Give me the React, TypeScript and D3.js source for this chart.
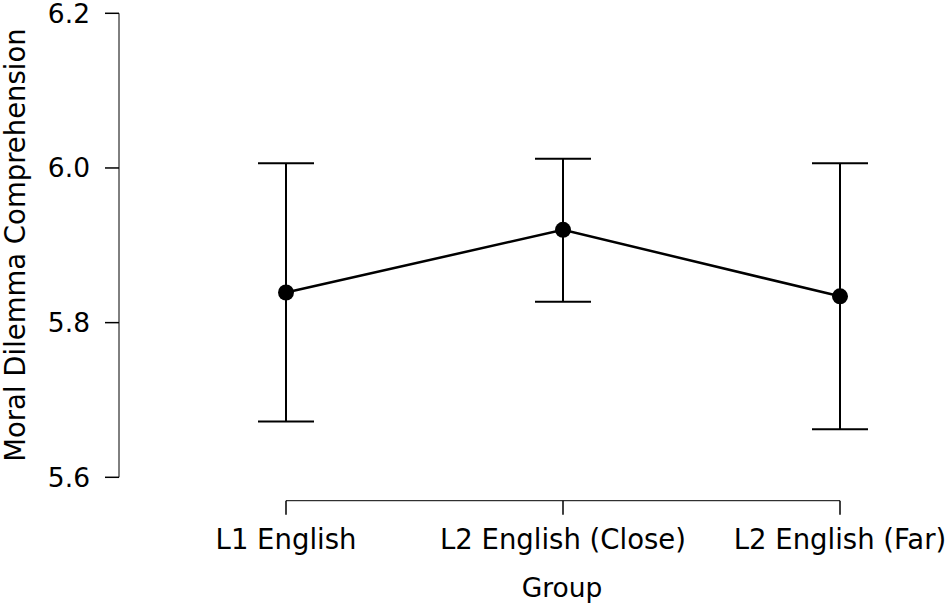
import { useEffect, useRef } from 'react';
import * as d3 from 'd3';

const GROUPS = ['L1 English', 'L2 English (Close)', 'L2 English (Far)'];
const MEANS = [5.839, 5.920, 5.834];
const LOWER = [5.672, 5.827, 5.662];
const UPPER = [6.006, 6.012, 6.006];
const Y_TICKS = [5.6, 5.8, 6.0, 6.2];

const WIDTH = 949;
const HEIGHT = 609;
const FONT = '"DejaVu Sans", "Open Sans", sans-serif';

export default function App() {
  const svgRef = useRef<SVGSVGElement>(null);

  useEffect(() => {
    if (!svgRef.current) return;
    const svg = d3.select(svgRef.current);
    svg.selectAll('*').remove();

    const x = d3.scalePoint<string>().domain(GROUPS).range([286, 840]);
    const y = d3.scaleLinear().domain([5.6, 6.2]).range([477.3, 13.3]);
    const axisX = 119;
    const axisY = 500.7;

    const rows = GROUPS.map((g, i) => ({ g, mean: MEANS[i], lo: LOWER[i], hi: UPPER[i] }));

    // y axis
    const yAxis = svg.append('g');
    yAxis.append('line')
      .attr('x1', axisX).attr('x2', axisX)
      .attr('y1', y(5.6)).attr('y2', y(6.2))
      .attr('stroke', '#000').attr('stroke-width', 1);
    yAxis.selectAll('line.tick').data(Y_TICKS).join('line')
      .attr('class', 'tick')
      .attr('x1', axisX - 14).attr('x2', axisX)
      .attr('y1', d => y(d)).attr('y2', d => y(d))
      .attr('stroke', '#000').attr('stroke-width', 1.5);
    yAxis.selectAll('text').data(Y_TICKS).join('text')
      .attr('x', 90).attr('y', d => y(d))
      .attr('dy', '0.35em')
      .attr('text-anchor', 'end')
      .attr('font-family', FONT).attr('font-size', 26.5)
      .attr('fill', '#000')
      .text(d => d.toFixed(1));

    svg.append('text')
      .attr('transform', `translate(25,245) rotate(-90)`)
      .attr('text-anchor', 'middle')
      .attr('font-family', FONT).attr('font-size', 27.5)
      .attr('fill', '#000')
      .text('Moral Dilemma Comprehension');

    // x axis
    const xAxis = svg.append('g');
    xAxis.append('line')
      .attr('x1', x(GROUPS[0])!).attr('x2', x(GROUPS[GROUPS.length - 1])!)
      .attr('y1', axisY).attr('y2', axisY)
      .attr('stroke', '#000').attr('stroke-width', 1);
    xAxis.selectAll('line.tick').data(GROUPS).join('line')
      .attr('class', 'tick')
      .attr('x1', d => x(d)!).attr('x2', d => x(d)!)
      .attr('y1', axisY).attr('y2', axisY + 14)
      .attr('stroke', '#000').attr('stroke-width', 1.5);
    xAxis.selectAll('text').data(GROUPS).join('text')
      .attr('x', d => x(d)!).attr('y', 549)
      .attr('text-anchor', 'middle')
      .attr('font-family', FONT).attr('font-size', 27.5)
      .attr('fill', '#000')
      .text(d => d);

    svg.append('text')
      .attr('x', 562).attr('y', 597)
      .attr('text-anchor', 'middle')
      .attr('font-family', FONT).attr('font-size', 26.5)
      .attr('fill', '#000')
      .text('Group');

    // error bars
    const bars = svg.append('g').attr('stroke', '#000').attr('stroke-width', 2).attr('fill', 'none');
    bars.selectAll('line.v').data(rows).join('line')
      .attr('class', 'v')
      .attr('x1', d => x(d.g)!).attr('x2', d => x(d.g)!)
      .attr('y1', d => y(d.lo)).attr('y2', d => y(d.hi));
    bars.selectAll('line.top').data(rows).join('line')
      .attr('class', 'top')
      .attr('x1', d => x(d.g)! - 28).attr('x2', d => x(d.g)! + 28)
      .attr('y1', d => y(d.hi)).attr('y2', d => y(d.hi));
    bars.selectAll('line.bot').data(rows).join('line')
      .attr('class', 'bot')
      .attr('x1', d => x(d.g)! - 28).attr('x2', d => x(d.g)! + 28)
      .attr('y1', d => y(d.lo)).attr('y2', d => y(d.lo));

    // mean line
    const line = d3.line<typeof rows[number]>()
      .x(d => x(d.g)!)
      .y(d => y(d.mean));
    svg.append('path')
      .datum(rows)
      .attr('d', line)
      .attr('fill', 'none')
      .attr('stroke', '#000')
      .attr('stroke-width', 2.5);

    svg.selectAll('circle').data(rows).join('circle')
      .attr('cx', d => x(d.g)!).attr('cy', d => y(d.mean))
      .attr('r', 8)
      .attr('fill', '#000');
  }, []);

  return (
    <div style={{ position: 'absolute', left: 0, top: 0 }}>
      <svg ref={svgRef} width={WIDTH} height={HEIGHT} style={{ display: 'block', background: '#fff' }} />
    </div>
  );
}
